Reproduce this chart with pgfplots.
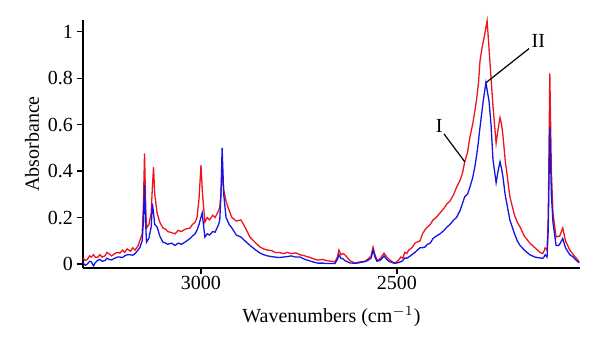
\documentclass[border=0pt]{standalone}
\usepackage{pgfplots}
\pgfplotsset{compat=1.18}
\usepackage{fontspec}
\setmainfont{Liberation Serif}
\definecolor{spred}{RGB}{238,20,30}
\definecolor{spblue}{RGB}{20,20,230}
\begin{document}
\fontsize{10}{12}\selectfont
\begin{tikzpicture}
\begin{axis}[
  scale only axis,
  width=248.5pt, height=124pt,
  x dir=reverse,
  xmin=2033, xmax=3301,
  ymin=-0.017, ymax=1.05,
  axis lines=left,
  axis line style={-, line width=0.7pt},
  xtick={2500,3000},
  ytick={0,0.2,0.4,0.6,0.8,1},
  tick align=outside,
  tick style={black, line width=0.6pt},
  major tick length=3pt,
  /pgf/number format/1000 sep={},
  /pgf/number format/assume math mode=true,
  ticklabel style={font=\fontsize{10}{12}\selectfont},
  yticklabel style={xshift=1.5pt},
  xticklabel style={yshift=2.5pt},
  xlabel={Wavenumbers (cm$^{-1}$)},
  ylabel={Absorbance},
  label style={font=\fontsize{10}{12}\selectfont},
  xlabel style={yshift=-1.5pt},
  ylabel style={yshift=-2.5pt},
  clip=false,
]
\addplot[spred, line width=0.65pt] coordinates {
(3301,0.026)(3295,0.015)(3290,0.02)(3284,0.035)(3280,0.03)(3274,0.04)(3270,0.03)(3264,0.028)(3258,0.04)(3252,0.03)(3245,0.035)(3240,0.05)(3235,0.045)(3228,0.035)(3220,0.045)(3213,0.05)(3207,0.047)(3200,0.06)(3195,0.05)(3188,0.065)(3180,0.055)(3174,0.07)(3168,0.06)(3160,0.08)(3156,0.10)(3150,0.13)(3147,0.25)(3144,0.476)(3141,0.25)(3139,0.155)(3133,0.17)(3127,0.22)(3124,0.33)(3121,0.417)(3118,0.30)(3112,0.22)(3105,0.18)(3097,0.155)(3090,0.15)(3085,0.14)(3075,0.135)(3066,0.13)(3058,0.145)(3050,0.14)(3040,0.15)(3028,0.155)(3022,0.17)(3015,0.18)(3010,0.2)(3005,0.28)(3000,0.425)(2996,0.3)(2990,0.18)(2984,0.2)(2978,0.19)(2970,0.21)(2964,0.2)(2955,0.23)(2952,0.245)(2949,0.3)(2946,0.41)(2942,0.32)(2936,0.27)(2928,0.23)(2921,0.2)(2910,0.185)(2898,0.19)(2888,0.16)(2875,0.116)(2860,0.09)(2849,0.073)(2840,0.065)(2830,0.06)(2820,0.058)(2811,0.05)(2800,0.05)(2790,0.045)(2780,0.05)(2770,0.045)(2758,0.048)(2747,0.04)(2735,0.035)(2725,0.03)(2712,0.022)(2702,0.017)(2690,0.02)(2680,0.015)(2668,0.012)(2658,0.01)(2652,0.03)(2648,0.06)(2643,0.04)(2637,0.045)(2633,0.04)(2620,0.015)(2607,0.004)(2598,0.008)(2590,0.01)(2582,0.012)(2575,0.02)(2566,0.035)(2561,0.073)(2556,0.04)(2551,0.017)(2545,0.02)(2540,0.03)(2533,0.047)(2526,0.03)(2520,0.02)(2512,0.01)(2505,0.004)(2497,0.015)(2490,0.03)(2485,0.025)(2480,0.05)(2475,0.045)(2470,0.06)(2462,0.07)(2454,0.09)(2448,0.095)(2441,0.10)(2435,0.13)(2429,0.146)(2422,0.16)(2415,0.17)(2408,0.19)(2400,0.2)(2390,0.22)(2380,0.24)(2372,0.26)(2365,0.27)(2355,0.30)(2348,0.33)(2339,0.36)(2333,0.39)(2327,0.44)(2320,0.48)(2314,0.545)(2307,0.6)(2301,0.66)(2296,0.72)(2292,0.78)(2288,0.875)(2283,0.93)(2277,0.98)(2270,1.047)(2266,0.95)(2263,0.875)(2255,0.68)(2247,0.52)(2242,0.58)(2237,0.63)(2233,0.6)(2230,0.56)(2224,0.45)(2212,0.29)(2206,0.25)(2200,0.21)(2193,0.18)(2186,0.16)(2175,0.12)(2161,0.09)(2148,0.07)(2135,0.05)(2128,0.045)(2125,0.055)(2122,0.07)(2117,0.06)(2114,0.2)(2110,0.82)(2106,0.4)(2102,0.22)(2094,0.116)(2088,0.12)(2085,0.12)(2077,0.155)(2070,0.1)(2059,0.06)(2050,0.04)(2045,0.03)(2035,0.01)
};
\addplot[spblue, line width=0.65pt] coordinates {
(3301,0.004)(3295,-0.005)(3290,0.0)(3284,0.012)(3280,0.01)(3274,-0.008)(3270,0.005)(3264,0.015)(3258,0.02)(3252,0.012)(3245,0.015)(3240,0.025)(3235,0.02)(3228,0.018)(3220,0.025)(3213,0.03)(3207,0.03)(3200,0.028)(3195,0.035)(3188,0.04)(3180,0.04)(3174,0.038)(3168,0.045)(3156,0.07)(3150,0.1)(3147,0.18)(3144,0.34)(3141,0.17)(3139,0.094)(3133,0.11)(3127,0.16)(3124,0.26)(3121,0.22)(3118,0.17)(3112,0.16)(3105,0.12)(3097,0.094)(3090,0.09)(3085,0.085)(3075,0.09)(3066,0.08)(3058,0.09)(3050,0.085)(3040,0.095)(3028,0.11)(3022,0.12)(3015,0.13)(3010,0.146)(3005,0.17)(2997,0.22)(2993,0.16)(2990,0.116)(2984,0.13)(2978,0.125)(2970,0.14)(2964,0.137)(2955,0.17)(2952,0.19)(2949,0.3)(2946,0.50)(2942,0.3)(2936,0.2)(2928,0.17)(2921,0.155)(2910,0.125)(2898,0.116)(2888,0.1)(2875,0.08)(2860,0.06)(2849,0.047)(2840,0.04)(2830,0.035)(2820,0.032)(2811,0.03)(2800,0.028)(2790,0.03)(2780,0.032)(2770,0.035)(2758,0.03)(2747,0.03)(2735,0.02)(2725,0.015)(2712,0.008)(2702,0.004)(2690,0.004)(2680,0.002)(2668,0.002)(2658,0.003)(2652,0.02)(2648,0.04)(2643,0.025)(2637,0.022)(2633,0.015)(2620,0.005)(2607,0.003)(2598,0.005)(2590,0.008)(2582,0.01)(2575,0.015)(2566,0.025)(2561,0.06)(2556,0.03)(2551,0.012)(2545,0.015)(2540,0.02)(2533,0.035)(2526,0.02)(2520,0.012)(2512,0.006)(2505,0.003)(2497,0.006)(2490,0.01)(2485,0.015)(2480,0.026)(2475,0.025)(2470,0.03)(2462,0.04)(2454,0.05)(2448,0.06)(2441,0.07)(2435,0.07)(2429,0.073)(2422,0.085)(2415,0.09)(2408,0.11)(2400,0.12)(2390,0.13)(2380,0.145)(2372,0.16)(2365,0.17)(2355,0.19)(2348,0.2)(2339,0.23)(2333,0.26)(2327,0.29)(2320,0.3)(2314,0.33)(2307,0.37)(2301,0.42)(2294,0.5)(2288,0.59)(2280,0.70)(2273,0.78)(2265,0.70)(2260,0.6)(2255,0.45)(2247,0.35)(2242,0.40)(2237,0.44)(2233,0.41)(2230,0.38)(2224,0.30)(2212,0.19)(2206,0.16)(2200,0.13)(2193,0.1)(2186,0.08)(2175,0.06)(2161,0.04)(2148,0.03)(2135,0.026)(2128,0.025)(2125,0.03)(2122,0.04)(2117,0.03)(2114,0.15)(2110,0.59)(2106,0.3)(2102,0.18)(2094,0.08)(2088,0.08)(2085,0.085)(2077,0.11)(2070,0.07)(2059,0.04)(2050,0.03)(2045,0.02)(2035,0.005)
};
\draw[black, line width=0.6pt] (axis cs:2380,0.56) -- (axis cs:2327,0.44);
\node[anchor=south east, inner sep=0.5pt] at (axis cs:2380,0.56) {I};
\draw[black, line width=0.6pt] (axis cs:2163,0.927) -- (axis cs:2273,0.78);
\node[anchor=south west, inner sep=0.5pt] at (axis cs:2160,0.925) {II};
\path (rel axis cs:0,0) ++(-41.5pt,-39.5pt) coordinate (bbsw);
\path (rel axis cs:1,1) ++(10pt,10pt) coordinate (bbne);
\path[use as bounding box] (bbsw) rectangle (bbne);
\end{axis}
\end{tikzpicture}
\end{document}
